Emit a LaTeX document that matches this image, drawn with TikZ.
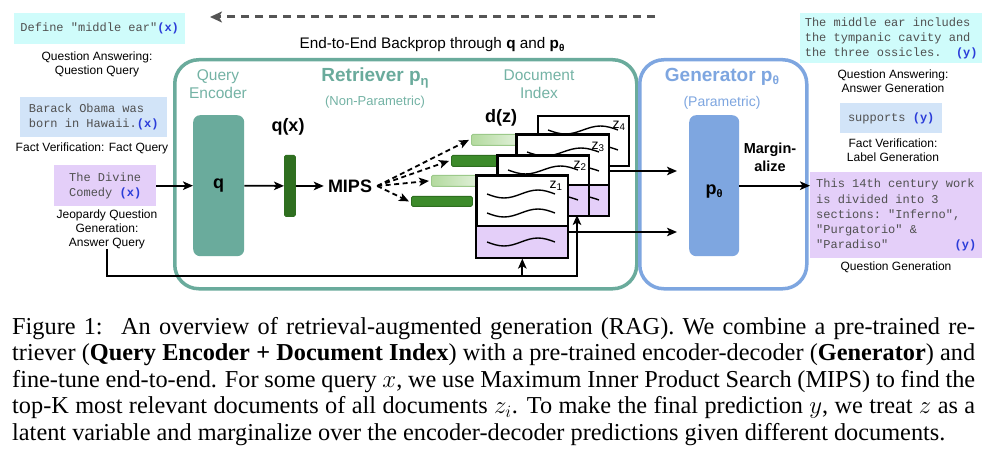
\documentclass[tikz,border=0pt]{standalone}
\usepackage{fontspec}
\setmainfont{Liberation Serif}
\setsansfont{Liberation Sans}
\setmonofont{Liberation Mono}
\usetikzlibrary{arrows.meta,calc}
\definecolor{ragteal}{HTML}{6AAB9C}
\definecolor{ragtealtxt}{HTML}{74B3A5}
\definecolor{ragblue}{HTML}{7EA6E0}
\definecolor{cyanbg}{HTML}{CFFCFB}
\definecolor{lblue}{HTML}{D2E4F8}
\definecolor{lav}{HTML}{E4CFF9}
\definecolor{txtgray}{HTML}{505050}
\definecolor{xblue}{HTML}{2B3CD9}
\definecolor{bpgray}{HTML}{555555}
\definecolor{dkgreen}{HTML}{3D8B2B}
\definecolor{dkgreenb}{HTML}{2E6E1F}
\definecolor{qxgreen}{HTML}{2F6F20}
\definecolor{lgreenA}{HTML}{B3DA9E}
\definecolor{lgreenB}{HTML}{E4F2DD}
\definecolor{lgreenb}{HTML}{9CC98A}
\newcommand\xtag{\textbf{\textcolor{xblue}{(x)}}}
\newcommand\ytag{\textbf{\textcolor{xblue}{(y)}}}
\newcommand\wv[3]{\draw[wave] (#1,#2) sin ++(#3/4,4) cos ++(#3/4,-4) sin ++(#3/4,-4) cos ++(#3/4,4);}
\begin{document}
\begin{tikzpicture}[x=1pt,y=-1pt,
  lbl/.style={font=\sffamily\fontsize{12}{14}\selectfont, align=center, inner sep=0pt},
  iobox/.style={anchor=north west, inner sep=0pt, font=\ttfamily\fontsize{12}{15}\selectfont, text=txtgray, align=left},
  arr/.style={draw=black, line width=1.8pt, -{Stealth[length=10pt,width=8.5pt,inset=2.5pt]}},
  darr/.style={arr, dash pattern=on 5pt off 3.5pt},
  bigbox/.style={anchor=north west, line width=3.5pt, rounded corners=24pt, inner sep=0pt},
  model/.style={anchor=north west, rounded corners=7pt, inner sep=0pt},
  tealtxt/.style={text=ragtealtxt, font=\sffamily\fontsize{15.5}{18}\selectfont, align=center, inner sep=0pt},
  bluetxt/.style={text=ragblue, font=\sffamily\fontsize{14}{18}\selectfont, align=center, inner sep=0pt},
  boldlbl/.style={font=\sffamily\bfseries\fontsize{18}{18}\selectfont, inner sep=0pt, align=center},
  bar/.style={anchor=north west, inner sep=0pt, rounded corners=1.5pt, line width=0.8pt},
  doc/.style={anchor=north west, inner sep=0pt, fill=white, draw=black, line width=1.6pt},
  docline/.style={draw=black, line width=1.6pt},
  wave/.style={line width=1.4pt, black},
  zl/.style={font=\sffamily\fontsize{14}{14}\selectfont, inner sep=0pt}
]
\useasboundingbox (0,0) rectangle (1000,454);
\fill[white] (0,0) rectangle (1000,454);

% ---------- top backprop arrow ----------
\coordinate (bp1) at (655,17);
\coordinate (bp2) at (210,17);
\draw[draw=bpgray, line width=3pt, dash pattern=on 8pt off 6pt, -{Stealth[length=12pt,width=11pt,inset=3pt]}] (bp1) -- (bp2);
\node[font=\sffamily\fontsize{15.3}{17}\selectfont, inner sep=0pt] (bptxt) at (432,45)
  {End-to-End Backprop through \textbf{q} and \textbf{p}\raisebox{-2.5pt}{\fontsize{10}{10}\selectfont\bfseries θ}};

% ---------- left inputs ----------
\node[iobox, fill=cyanbg, minimum width=171, minimum height=31] (qain) at (14,13) {Define "middle ear"\xtag};
\node[lbl] (qainl) at (97,64) {Question Answering:\\Question Query};
\node[iobox, fill=lblue, minimum width=147, minimum height=40] (fvin) at (20,97) {Barack Obama was\\born in Hawaii.\xtag};
\node[lbl] (fvinl) at (92,148) {Fact Verification: Fact Query};
\node[iobox, fill=lav, minimum width=102, minimum height=41] (jpin) at (54,165) {The Divine\\Comedy \xtag};
\node[lbl] (jpinl) at (107,229) {Jeopardy Question\\Generation:\\Answer Query};

% ---------- right outputs ----------
\node[iobox, fill=cyanbg, minimum width=182, minimum height=50] (qaout) at (800,13) {The middle ear includes\\the tympanic cavity and\\the three ossicles.\ \ \ytag};
\node[lbl] (qaoutl) at (893,81.5) {Question Answering:\\Answer Generation};
\node[iobox, fill=lblue, minimum width=102, minimum height=30] (fvout) at (840,103) {supports \ytag};
\node[lbl] (fvoutl) at (893,150) {Fact Verification:\\Label Generation};
\node[iobox, fill=lav, minimum width=172, minimum height=86] (qgout) at (810,172)
  {\parbox{160pt}{\raggedright\baselineskip=15.2pt This 14th century work\\is divided into 3\\sections: "Inferno",\\"Purgatorio" \&\\"Paradiso"\hfill\ytag}};
\node[lbl] (qgoutl) at (896,267) {Question Generation};

% ---------- big boxes ----------
\node[bigbox, draw=ragteal, minimum width=462, minimum height=229] (retr) at (173,58) {};
\node[bigbox, draw=ragblue, minimum width=167, minimum height=229] (gen) at (638,58) {};

\node[tealtxt] (qelbl) at (218,84) {Query\\Encoder};
\node[font=\sffamily\bfseries\fontsize{19}{19}\selectfont, text=ragteal, inner sep=0pt] (retrl) at (375,78)
  {Retriever p\raisebox{-4pt}{\fontsize{13}{13}\selectfont η}};
\node[tealtxt, font=\sffamily\fontsize{13}{15}\selectfont] (npl) at (375,102) {(Non-Parametric)};
\node[tealtxt] (dilbl) at (539,84) {Document\\Index};

\node[font=\sffamily\bfseries\fontsize{19}{19}\selectfont, text=ragblue, inner sep=0pt] (genl) at (722,77)
  {Generator p\raisebox{-3pt}{\fontsize{12}{12}\selectfont θ}};
\node[bluetxt] (parl) at (722,103) {(Parametric)};

% ---------- models ----------
\node[model, fill=ragteal, minimum width=51, minimum height=141] (qbox) at (193,115) {};
\node[boldlbl] at (qbox.center) {q};
\node[model, fill=ragblue, minimum width=50, minimum height=141] (pbox) at (689,115) {};
\node[boldlbl] at ($(pbox.center)+(0,6)$) {p\raisebox{-3pt}{\fontsize{11}{11}\selectfont θ}};

\node[boldlbl] (qxl) at (288,127) {q(x)};
\node[bar, fill=qxgreen, draw=qxgreen, minimum width=11, minimum height=61] (qx) at (284,155) {};
\node[boldlbl] (mips) at (350,186) {MIPS};
\node[boldlbl] (dzl) at (501,118) {d(z)};
\node[font=\sffamily\bfseries\fontsize{14.5}{18}\selectfont, inner sep=0pt, align=center] (margl) at (770,157) {Margin-\\alize};

% ---------- bars ----------
\node[bar, left color=lgreenA, right color=lgreenB, draw=lgreenb, minimum width=50, minimum height=11] (barA) at (471,134) {};
\node[bar, fill=dkgreen, draw=dkgreenb, minimum width=50, minimum height=11] (barB) at (451,155) {};
\node[bar, left color=lgreenA, right color=lgreenB, draw=lgreenb, minimum width=50, minimum height=11] (barC) at (431,175) {};
\node[bar, fill=dkgreen, draw=dkgreenb, minimum width=61, minimum height=10] (barD) at (411,196) {};

% ---------- documents ----------
\node[doc, minimum width=91, minimum height=50] (z4) at (537,115) {};
\wv{548}{130}{70}
\wv{548}{150}{70}
\node[zl] at (619,126) {z\textsubscript{4}};

\node[doc, minimum width=92, minimum height=81] (z3) at (516,134) {};
\fill[lav] (516,185) rectangle (608,215);
\draw[docline] (516,185) -- (608,185);
\draw[docline] (z3.north west) rectangle (z3.south east);
\wv{527}{152}{72}
\wv{527}{171}{72}
\wv{527}{200}{72}
\node[zl] at (598,147) {z\textsubscript{3}};

\node[doc, minimum width=91, minimum height=60] (z2) at (497,155) {};
\fill[lav] (497,185) rectangle (588,215);
\draw[docline] (497,185) -- (588,185);
\draw[docline] (z2.north west) rectangle (z2.south east);
\wv{508}{170}{70}
\wv{508}{200}{70}
\node[zl] at (580,166) {z\textsubscript{2}};

\node[doc, minimum width=91, minimum height=82] (z1) at (476,175) {};
\fill[lav] (476,226) rectangle (567,257);
\draw[docline] (476,226) -- (567,226);
\draw[docline] (z1.north west) rectangle (z1.south east);
\wv{487}{194}{68}
\wv{487}{213}{68}
\wv{487}{242}{68}
\node[zl] at (556,186) {z\textsubscript{1}};

% ---------- connectors ----------
\draw[arr] (jpin.east) -- (qbox.west);
\draw[arr] (qbox.east) -- (qx.west);
\draw[arr, shorten >=4pt] (qx.east) -- (mips.west);
\coordinate (ms) at ($(mips.east)+(5,0)$);
\draw[darr] (ms) -- ($(barA.west)+(-2,0)$);
\draw[darr] (ms) -- ($(barB.west)+(-2,0)$);
\draw[darr] (ms) -- ($(barC.west)+(-2,0)$);
\draw[darr] (ms) -- ($(barD.west)+(-2,0)$);

\coordinate (g1) at (677,171);
\coordinate (g2) at (677,232);
\draw[arr] (z3.east |- g1) -- (g1);
\draw[arr] (z1.east |- g2) -- (g2);
\draw[arr] (pbox.east) -- (pbox.east -| qgout.west);

\coordinate (fb) at (107,276);
\coordinate (z2in) at (577,215);
\draw[arr] (jpinl.south) -- (jpinl.south |- fb) -- (z2in |- fb) -- (z2in);
\draw[arr] (z1.south |- fb) -- (z1.south);

% ---------- caption ----------
\node[anchor=base west, inner sep=0pt] (cap) at (12,334)
 {\parbox[t]{963pt}{\fontsize{24.3}{26.6}\selectfont\hyphenpenalty=10000\exhyphenpenalty=10000\tolerance=10000
 Figure 1:\hspace{0.25em} An overview of retrieval-augmented generation (RAG). We combine a pre-trained re-\linebreak
 triever (\textbf{Query Encoder + Document Index}) with a pre-trained encoder-decoder (\textbf{Generator}) and\linebreak
 fine-tune end-to-end. For some query $x$, we use Maximum Inner Product Search (MIPS) to find the\linebreak
 top-K most relevant documents of all documents $z_i$. To make the final prediction $y$, we treat $z$ as a\linebreak
 latent variable and marginalize over the encoder-decoder predictions given different documents.}};
\end{tikzpicture}
\end{document}
